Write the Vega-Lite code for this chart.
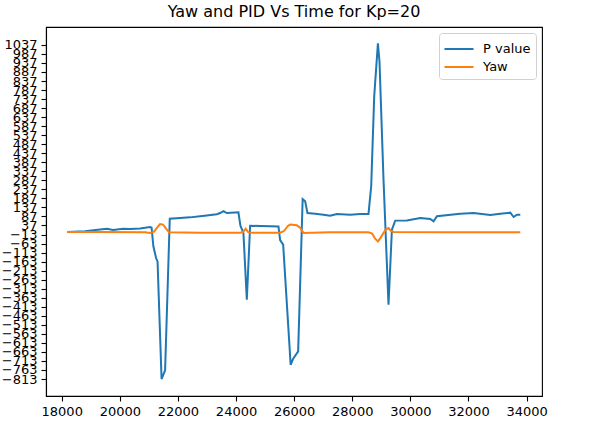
{
  "$schema": "https://vega.github.io/schema/vega-lite/v6.json",
  "width": 496,
  "height": 369,
  "autosize": "none",
  "padding": {"left": 46, "top": 27, "right": 56, "bottom": 35},
  "background": "white",
  "title": {
    "text": "Yaw and PID Vs Time for Kp=20",
    "font": "DejaVu Sans",
    "fontSize": 16,
    "fontWeight": "normal",
    "color": "black",
    "anchor": "middle",
    "offset": 7
  },
  "data": {
    "values": [
      {"t": 18193, "v": 1, "series": "P value"},
      {"t": 18802, "v": 5, "series": "P value"},
      {"t": 19319, "v": 15, "series": "P value"},
      {"t": 19560, "v": 19, "series": "P value"},
      {"t": 19767, "v": 12, "series": "P value"},
      {"t": 20111, "v": 19, "series": "P value"},
      {"t": 20352, "v": 17, "series": "P value"},
      {"t": 20697, "v": 21, "series": "P value"},
      {"t": 21041, "v": 29, "series": "P value"},
      {"t": 21093, "v": 25, "series": "P value"},
      {"t": 21155, "v": -78, "series": "P value"},
      {"t": 21248, "v": -143, "series": "P value"},
      {"t": 21299, "v": -163, "series": "P value"},
      {"t": 21437, "v": -813, "series": "P value"},
      {"t": 21558, "v": -765, "series": "P value"},
      {"t": 21719, "v": 75, "series": "P value"},
      {"t": 22074, "v": 79, "series": "P value"},
      {"t": 22419, "v": 82, "series": "P value"},
      {"t": 22763, "v": 88, "series": "P value"},
      {"t": 22994, "v": 92, "series": "P value"},
      {"t": 23338, "v": 99, "series": "P value"},
      {"t": 23452, "v": 106, "series": "P value"},
      {"t": 23566, "v": 117, "series": "P value"},
      {"t": 23683, "v": 106, "series": "P value"},
      {"t": 24082, "v": 110, "series": "P value"},
      {"t": 24151, "v": 36, "series": "P value"},
      {"t": 24254, "v": -4, "series": "P value"},
      {"t": 24371, "v": -374, "series": "P value"},
      {"t": 24485, "v": 36, "series": "P value"},
      {"t": 24829, "v": 34, "series": "P value"},
      {"t": 25174, "v": 33, "series": "P value"},
      {"t": 25460, "v": 32, "series": "P value"},
      {"t": 25518, "v": -44, "series": "P value"},
      {"t": 25622, "v": -69, "series": "P value"},
      {"t": 25880, "v": -734, "series": "P value"},
      {"t": 25966, "v": -700, "series": "P value"},
      {"t": 26138, "v": -660, "series": "P value"},
      {"t": 26293, "v": 183, "series": "P value"},
      {"t": 26379, "v": 171, "series": "P value"},
      {"t": 26458, "v": 106, "series": "P value"},
      {"t": 26724, "v": 102, "series": "P value"},
      {"t": 27010, "v": 97, "series": "P value"},
      {"t": 27240, "v": 91, "series": "P value"},
      {"t": 27471, "v": 101, "series": "P value"},
      {"t": 27929, "v": 97, "series": "P value"},
      {"t": 28273, "v": 100, "series": "P value"},
      {"t": 28559, "v": 101, "series": "P value"},
      {"t": 28652, "v": 254, "series": "P value"},
      {"t": 28756, "v": 752, "series": "P value"},
      {"t": 28883, "v": 1045, "series": "P value"},
      {"t": 28938, "v": 944, "series": "P value"},
      {"t": 29076, "v": 291, "series": "P value"},
      {"t": 29248, "v": -401, "series": "P value"},
      {"t": 29365, "v": 14, "series": "P value"},
      {"t": 29479, "v": 64, "series": "P value"},
      {"t": 29882, "v": 65, "series": "P value"},
      {"t": 30340, "v": 79, "series": "P value"},
      {"t": 30684, "v": 73, "series": "P value"},
      {"t": 30798, "v": 60, "series": "P value"},
      {"t": 30915, "v": 88, "series": "P value"},
      {"t": 31717, "v": 102, "series": "P value"},
      {"t": 32175, "v": 106, "series": "P value"},
      {"t": 32750, "v": 95, "series": "P value"},
      {"t": 33095, "v": 102, "series": "P value"},
      {"t": 33439, "v": 108, "series": "P value"},
      {"t": 33553, "v": 84, "series": "P value"},
      {"t": 33670, "v": 97, "series": "P value"},
      {"t": 33784, "v": 97, "series": "P value"},
      {"t": 18193, "v": 1, "series": "Yaw"},
      {"t": 19319, "v": 1, "series": "Yaw"},
      {"t": 20869, "v": 0, "series": "Yaw"},
      {"t": 21041, "v": -5, "series": "Yaw"},
      {"t": 21179, "v": 3, "series": "Yaw"},
      {"t": 21282, "v": 25, "series": "Yaw"},
      {"t": 21386, "v": 45, "series": "Yaw"},
      {"t": 21489, "v": 42, "series": "Yaw"},
      {"t": 21592, "v": 20, "series": "Yaw"},
      {"t": 21695, "v": -1, "series": "Yaw"},
      {"t": 22763, "v": -3, "series": "Yaw"},
      {"t": 24151, "v": -3, "series": "Yaw"},
      {"t": 24254, "v": 3, "series": "Yaw"},
      {"t": 24330, "v": 19, "series": "Yaw"},
      {"t": 24416, "v": 0, "series": "Yaw"},
      {"t": 24485, "v": -3, "series": "Yaw"},
      {"t": 25518, "v": -3, "series": "Yaw"},
      {"t": 25640, "v": 5, "series": "Yaw"},
      {"t": 25793, "v": 36, "series": "Yaw"},
      {"t": 25862, "v": 42, "series": "Yaw"},
      {"t": 26093, "v": 38, "series": "Yaw"},
      {"t": 26207, "v": 25, "series": "Yaw"},
      {"t": 26321, "v": -4, "series": "Yaw"},
      {"t": 27240, "v": -1, "series": "Yaw"},
      {"t": 28559, "v": -1, "series": "Yaw"},
      {"t": 28686, "v": -8, "series": "Yaw"},
      {"t": 28790, "v": -36, "series": "Yaw"},
      {"t": 28883, "v": -51, "series": "Yaw"},
      {"t": 28980, "v": -30, "series": "Yaw"},
      {"t": 29076, "v": -4, "series": "Yaw"},
      {"t": 29169, "v": 17, "series": "Yaw"},
      {"t": 29248, "v": 23, "series": "Yaw"},
      {"t": 29324, "v": 8, "series": "Yaw"},
      {"t": 29421, "v": 1, "series": "Yaw"},
      {"t": 31373, "v": -1, "series": "Yaw"},
      {"t": 33784, "v": -1, "series": "Yaw"}
    ]
  },
  "mark": {"type": "line", "strokeWidth": 2, "clip": true},
  "encoding": {
    "x": {
      "field": "t",
      "type": "quantitative",
      "scale": {"domain": [17459, 34531], "nice": false, "zero": false},
      "axis": {
        "title": null,
        "values": [18000, 20000, 22000, 24000, 26000, 28000, 30000, 32000, 34000],
        "format": "d",
        "grid": false
      }
    },
    "y": {
      "field": "v",
      "type": "quantitative",
      "scale": {"domain": [-907, 1136], "nice": false, "zero": false},
      "axis": {
        "title": null,
        "values": [-813, -763, -713, -663, -613, -563, -513, -463, -413, -363, -313, -263, -213, -163, -113, -63, -13, 37, 87, 137, 187, 237, 287, 337, 387, 437, 487, 537, 587, 637, 687, 737, 787, 837, 887, 937, 987, 1037],
        "format": "d",
        "grid": false
      }
    },
    "color": {
      "field": "series",
      "type": "nominal",
      "scale": {"domain": ["P value", "Yaw"], "range": ["#1f77b4", "#ff7f0e"]},
      "legend": {
        "title": null,
        "orient": "top-right",
        "offset": 6,
        "symbolType": "M-1.45,0H1.45",
        "symbolSize": 400,
        "symbolStrokeWidth": 2,
        "symbolOffset": 4,
        "labelFont": "DejaVu Sans",
        "labelFontSize": 13,
        "labelColor": "black",
        "labelOffset": 13,
        "padding": 5,
        "strokeColor": "#d0d0d0",
        "fillColor": "white",
        "cornerRadius": 3,
        "rowPadding": 0
      }
    }
  },
  "config": {
    "view": {"stroke": "black", "strokeWidth": 1.1},
    "axis": {
      "labelFont": "DejaVu Sans",
      "labelFontSize": 13,
      "labelColor": "black",
      "domainColor": "black",
      "domainWidth": 1.1,
      "tickColor": "black",
      "tickWidth": 1.1,
      "tickSize": 5,
      "labelPadding": 4,
      "labelOverlap": false,
      "labelFlush": false
    }
  }
}
